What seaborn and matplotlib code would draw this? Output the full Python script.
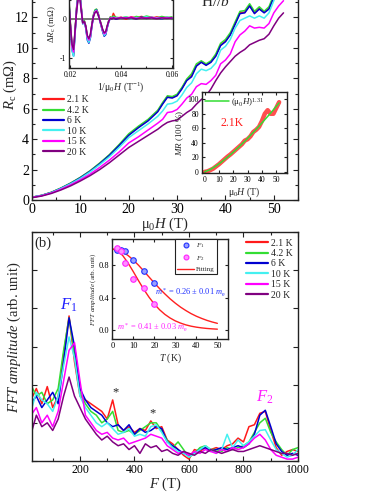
import numpy as np
import pandas as pd
import matplotlib
matplotlib.use("Agg")
import matplotlib.pyplot as plt
import seaborn as sns
from matplotlib.ticker import MultipleLocator

# ---- data -------------------------------------------------------------
TEMPS = ["2.1 K", "4.2 K", "6 K", "10 K", "15 K", "20 K"]
COLORS = ["#ff1a1a", "#33dd33", "#0000d0", "#44f0f0", "#ff00ff", "#800080"]

# (a) R_c vs field
H_GRID = [0, 2, 4, 6, 8, 10, 12, 14, 16, 18, 20, 22, 24, 26, 27, 28, 29, 30, 31, 32,
          33, 34, 35, 36, 37, 38, 39, 40, 41, 42, 43, 44, 45, 46, 47, 48, 49, 50, 51, 52]
R_21K = [0.18, 0.3, 0.5, 0.78, 1.1, 1.47, 1.9, 2.4, 2.95, 3.6, 4.3, 4.8, 5.26, 5.85, 6.35, 6.8, 6.75, 6.9, 7.35, 7.9,
         8.2, 8.85, 9.1, 8.9, 9.1, 9.5, 10.2, 10.45, 10.9, 11.6, 12.3, 12.35, 12.8, 12.3, 12.6, 12.35, 12.6, 13.4, 14.2, 14.6]
R_42K = [0.18, 0.31, 0.51, 0.79, 1.12, 1.49, 1.92, 2.43, 2.98, 3.64, 4.35, 4.85, 5.3, 5.9, 6.4, 6.85, 6.8, 6.95, 7.4, 7.95,
         8.3, 8.95, 9.15, 8.95, 9.15, 9.6, 10.3, 10.55, 11.0, 11.7, 12.4, 12.45, 12.9, 12.4, 12.7, 12.4, 12.7, 13.5, 14.3, 14.7]
R_6K = [0.18, 0.3, 0.49, 0.77, 1.09, 1.46, 1.88, 2.38, 2.93, 3.57, 4.25, 4.75, 5.2, 5.8, 6.3, 6.75, 6.7, 6.85, 7.3, 7.85,
        8.1, 8.8, 9.05, 8.85, 9.05, 9.45, 10.15, 10.4, 10.85, 11.55, 12.25, 12.3, 12.75, 12.25, 12.55, 12.3, 12.55, 13.3, 14.1, 14.5]
R_10K = [0.18, 0.3, 0.48, 0.76, 1.07, 1.42, 1.84, 2.32, 2.84, 3.45, 4.1, 4.55, 5.0, 5.5, 5.85, 6.3, 6.35, 6.5, 6.9, 7.4,
         7.7, 8.3, 8.6, 8.5, 8.65, 9.0, 9.85, 10.1, 10.55, 11.3, 11.8, 11.95, 12.1, 11.95, 12.1, 11.95, 12.3, 13.1, 13.8, 14.2]
R_15K = [0.17, 0.28, 0.46, 0.71, 1.0, 1.33, 1.7, 2.14, 2.62, 3.15, 3.75, 4.15, 4.6, 5.05, 5.3, 5.75, 5.8, 5.95, 6.3, 6.7,
         6.95, 7.45, 7.65, 7.6, 7.85, 8.2, 8.95, 9.2, 9.6, 10.4, 10.85, 11.1, 11.45, 11.3, 11.35, 11.3, 11.6, 12.3, 12.75, 13.1]
R_20K = [0.15, 0.26, 0.43, 0.66, 0.93, 1.25, 1.6, 2.0, 2.45, 2.95, 3.45, 3.85, 4.25, 4.65, 4.9, 5.1, 5.2, 5.25, 5.5, 5.75,
         5.95, 6.3, 6.6, 6.85, 7.3, 7.85, 8.35, 8.75, 9.1, 9.45, 9.7, 9.9, 10.2, 10.35, 10.5, 10.6, 10.9, 11.45, 11.95, 12.3]

# inset: oscillating part vs 1/H
INV_H = [0.0196, 0.0202, 0.0208, 0.0214, 0.0220, 0.0226, 0.0232, 0.0238, 0.0244, 0.0250,
         0.0256, 0.0262, 0.0268, 0.0274, 0.0280, 0.0286, 0.0292, 0.0298, 0.0304, 0.0310,
         0.0316, 0.0322, 0.0328, 0.0334, 0.0340, 0.0346, 0.0352, 0.0358, 0.0364, 0.0370,
         0.038, 0.040, 0.042, 0.044, 0.046, 0.048, 0.050, 0.052, 0.054, 0.056, 0.058, 0.060]
DR_21K = [0.45, -0.2, -0.75, -0.9, -0.3, 0.3, 0.65, 0.7, 0.3, -0.1, -0.05, -0.2, -0.5, -0.58, -0.45, -0.15, 0.1, 0.22, 0.25, 0.15,
          0.0, -0.15, -0.3, -0.42, -0.38, -0.2, -0.05, 0.05, 0.02, 0.15, 0.02, 0.05, 0.0, 0.06, 0.03, 0.07, 0.04, 0.02, 0.06, 0.03, 0.05, 0.02]
DR_42K = [0.5, -0.15, -0.7, -0.88, -0.28, 0.32, 0.68, 0.72, 0.32, -0.08, -0.03, -0.18, -0.48, -0.55, -0.42, -0.12, 0.12, 0.24, 0.26, 0.16,
          0.02, -0.12, -0.28, -0.4, -0.36, -0.18, -0.03, 0.06, 0.04, 0.08, 0.05, 0.03, 0.06, 0.02, 0.07, 0.04, 0.08, 0.05, 0.03, 0.07, 0.04, 0.06]
DR_6K = [0.42, -0.25, -0.8, -0.95, -0.35, 0.28, 0.62, 0.68, 0.28, -0.12, -0.08, -0.24, -0.54, -0.62, -0.48, -0.18, 0.08, 0.2, 0.24, 0.14,
         -0.02, -0.17, -0.32, -0.44, -0.4, -0.22, -0.07, 0.03, 0.01, 0.04, 0.0, 0.04, 0.02, 0.04, 0.01, 0.05, 0.02, 0.04, 0.03, 0.01, 0.04, 0.02]
DR_10K = [0.4, -0.28, -0.82, -0.96, -0.36, 0.26, 0.6, 0.66, 0.27, -0.12, -0.08, -0.22, -0.52, -0.6, -0.46, -0.17, 0.08, 0.2, 0.23, 0.13,
          -0.02, -0.16, -0.3, -0.42, -0.38, -0.21, -0.06, 0.03, 0.02, 0.05, 0.03, 0.02, 0.05, 0.01, 0.04, 0.03, 0.06, 0.02, 0.04, 0.02, 0.05, 0.03]
DR_15K = [0.38, -0.22, -0.72, -0.85, -0.3, 0.25, 0.58, 0.62, 0.26, -0.1, -0.06, -0.2, -0.46, -0.54, -0.42, -0.15, 0.08, 0.19, 0.22, 0.13,
          -0.01, -0.14, -0.28, -0.38, -0.35, -0.19, -0.05, 0.03, 0.02, 0.04, 0.02, 0.04, 0.03, 0.05, 0.02, 0.04, 0.03, 0.05, 0.02, 0.04, 0.03, 0.04]
DR_20K = [0.35, -0.2, -0.65, -0.78, -0.27, 0.22, 0.52, 0.56, 0.22, -0.1, -0.06, -0.18, -0.42, -0.5, -0.38, -0.13, 0.07, 0.17, 0.2, 0.12,
          -0.01, -0.13, -0.26, -0.35, -0.32, -0.17, -0.05, 0.02, 0.01, 0.03, 0.01, 0.03, 0.02, 0.03, 0.01, 0.03, 0.02, 0.03, 0.01, 0.03, 0.02, 0.03]

# inset: MR at 2.1 K and power-law fit
MR_H = [0, 2, 4, 6, 8, 10, 12, 14, 16, 18, 20, 22, 24, 26, 28, 30, 32, 34, 36, 38, 40, 42, 44, 46, 48, 50, 52]
MR_21K = [0, 0.8, 2.5, 4.5, 7.5, 10.5, 14, 17.5, 21, 24, 27.5, 31, 34.5, 38, 43, 45, 49, 55, 58, 62, 70, 80, 85, 80, 80, 88, 96]
FIT_H = [0, 4, 8, 12, 16, 20, 24, 28, 32, 36, 40, 44, 48, 52]
FIT_MR = [0, 3.3, 8.2, 13.9, 20.3, 27.2, 34.5, 42.2, 50.3, 58.7, 67.4, 76.3, 85.5, 95.0]

# (b) FFT spectra
FFT_F = np.arange(20, 1001, 20)
A_21K = [1.6, 1.9, 1.5, 1.95, 1.4, 1.7, 2.8, 3.8, 2.6, 1.7, 1.6, 1.5, 1.4, 1.3, 1.1, 1.6, 0.95, 0.8, 0.9, 0.75,
         0.85, 0.8, 1.05, 0.85, 0.9, 0.55, 0.45, 0.3, 0.15, 0.05, 0.3, 0.25, 0.35, 0.3, 0.35, 0.3, 0.4, 0.45, 0.6, 0.5,
         0.9, 0.95, 1.25, 1.3, 0.8, 0.35, 0.15, 0.25, 0.3, 0.25]
A_42K = [2.0, 1.7, 1.8, 1.5, 1.6, 1.9, 2.9, 3.75, 2.8, 1.8, 1.5, 1.3, 1.2, 1.0, 1.1, 1.3, 0.8, 0.75, 0.8, 0.7,
         0.8, 0.9, 1.0, 1.0, 0.8, 0.55, 0.35, 0.5, 0.3, 0.1, 0.2, 0.35, 0.4, 0.3, 0.3, 0.25, 0.35, 0.3, 0.35, 0.4,
         0.5, 0.75, 1.0, 1.12, 0.75, 0.5, 0.3, 0.15, 0.3, 0.35]
A_6K = [1.5, 1.7, 1.4, 1.6, 1.8, 1.5, 2.6, 3.75, 3.0, 1.9, 1.6, 1.4, 1.3, 1.2, 1.0, 0.9, 0.95, 0.8, 0.95, 0.7,
        0.85, 0.75, 0.8, 0.9, 0.85, 0.5, 0.4, 0.3, 0.2, 0.15, 0.2, 0.3, 0.35, 0.25, 0.3, 0.35, 0.3, 0.35, 0.4, 0.35,
        0.45, 0.7, 1.2, 1.33, 0.9, 0.45, 0.25, 0.15, 0.2, 0.15]
A_10K = [1.3, 1.8, 1.6, 1.5, 1.3, 1.7, 2.5, 3.25, 2.7, 1.7, 1.4, 1.2, 1.0, 0.9, 1.0, 0.85, 0.7, 0.75, 0.85, 0.65,
         0.7, 0.65, 0.9, 0.95, 0.75, 0.5, 0.35, 0.25, 0.2, 0.1, 0.2, 0.3, 0.4, 0.3, 0.2, 0.3, 0.7, 0.35, 0.55, 0.4,
         0.5, 0.65, 0.8, 0.82, 0.55, 0.3, 0.2, 0.1, 0.15, 0.3]
A_15K = [1.2, 1.4, 1.0, 1.2, 0.9, 1.3, 2.1, 2.9, 3.1, 2.1, 1.2, 1.0, 0.8, 0.7, 0.75, 0.6, 0.55, 0.6, 0.45, 0.5,
         0.55, 0.6, 0.7, 0.65, 0.6, 0.4, 0.3, 0.2, 0.25, 0.15, 0.25, 0.2, 0.3, 0.25, 0.2, 0.3, 0.25, 0.35, 0.3, 0.35,
         0.45, 0.6, 0.7, 0.55, 0.3, 0.15, 0.1, 0.05, 0.05, 0.1]
A_20K = [0.7, 1.2, 0.9, 1.0, 0.8, 1.1, 1.7, 2.2, 1.7, 1.4, 1.1, 0.9, 0.7, 0.55, 0.65, 0.5, 0.4, 0.45, 0.3, 0.4,
         0.2, 0.45, 0.35, 0.4, 0.25, 0.3, 0.2, 0.15, 0.25, 0.2, 0.15, 0.25, 0.2, 0.3, 0.25, 0.2, 0.25, 0.3, 0.25, 0.25,
         0.3, 0.35, 0.4, 0.35, 0.3, 0.25, 0.2, 0.2, 0.15, 0.2]

# inset: amplitude vs temperature
T_PTS = [2.1, 4.2, 6, 10, 15, 20]
F1_AMP = [0.99, 0.99, 0.98, 0.86, 0.73, 0.58]
F2_AMP = [1.01, 0.98, 0.83, 0.63, 0.52, 0.32]
T_FIT = [0, 2.5, 5, 7.5, 10, 12.5, 15, 17.5, 20, 22.5, 25, 27.5, 30, 32.5, 35, 37.5, 40, 42.5, 45, 47.5, 50]
F1_FIT = [1.0, 0.991, 0.963, 0.920, 0.864, 0.799, 0.728, 0.654, 0.581, 0.511, 0.446, 0.385, 0.331, 0.282,
          0.240, 0.202, 0.170, 0.143, 0.119, 0.099, 0.082]
F2_FIT = [1.0, 0.979, 0.918, 0.827, 0.720, 0.608, 0.501, 0.404, 0.320, 0.250, 0.193, 0.148, 0.112, 0.085,
          0.063, 0.047, 0.035, 0.026, 0.019, 0.014, 0.010]

R_SERIES = [R_21K, R_42K, R_6K, R_10K, R_15K, R_20K]
DR_SERIES = [DR_21K, DR_42K, DR_6K, DR_10K, DR_15K, DR_20K]
A_SERIES = [A_21K, A_42K, A_6K, A_10K, A_15K, A_20K]

# ---- style ------------------------------------------------------------
sns.set_theme(style="ticks")
plt.rcParams["font.family"] = ["Liberation Serif", "DejaVu Serif"]
plt.rcParams["mathtext.fontset"] = "custom"
plt.rcParams["mathtext.rm"] = "Liberation Serif"
plt.rcParams["mathtext.it"] = "Liberation Serif:italic"
plt.rcParams["mathtext.bf"] = "Liberation Serif:bold"
plt.rcParams["axes.edgecolor"] = "#222222"
plt.rcParams["axes.linewidth"] = 1.0

W, H = 382, 494
fig = plt.figure(figsize=(W / 100, H / 100), dpi=100)
fig.patch.set_facecolor("white")


def px_axes(left, top, right, bottom):
    return fig.add_axes([left / W, 1 - bottom / H, (right - left) / W, (bottom - top) / H])


def style_ticks(ax, size, major=3.5, minor=2.0):
    ax.tick_params(which="both", direction="in", top=True, right=True, colors="#222222",
                   labelcolor="black", labelsize=size, width=0.8, pad=2)
    ax.tick_params(which="major", length=major)
    ax.tick_params(which="minor", length=minor)


# ---- (a) main -----------------------------------------------------------
ax1 = px_axes(32, -13, 298, 200)
for vals, col, lab in zip(R_SERIES, COLORS, TEMPS):
    sns.lineplot(x=H_GRID, y=vals, ax=ax1, color=col, lw=1.1, label=lab)
ax1.set_xlim(0, 55)
ax1.set_ylim(0, 14)
ax1.xaxis.set_major_locator(MultipleLocator(10))
ax1.xaxis.set_minor_locator(MultipleLocator(5))
ax1.yaxis.set_major_locator(MultipleLocator(2))
ax1.yaxis.set_minor_locator(MultipleLocator(1))
style_ticks(ax1, 10)
ax1.set_xlabel(r"μ$_0$$\mathit{H}$ (T)", fontsize=10.5, labelpad=0)
ax1.set_ylabel(r"$\mathit{R}_\mathrm{c}$ (mΩ)", fontsize=10.5)
ax1.yaxis.set_label_coords(-0.047, 0.54)
ax1.text(34.9, 12.76, r"$\mathrm{H}//\mathit{b}$", fontsize=11, va="baseline")
leg1 = ax1.legend(loc="upper left", bbox_to_anchor=(43.3 / W, 1 - 95.5 / H), bbox_transform=fig.transFigure,
                  frameon=False, fontsize=7, handlelength=2.1, handletextpad=0.3, labelspacing=0.15,
                  borderpad=0, borderaxespad=0)
for ln in leg1.get_lines():
    ln.set_linewidth(1.6)

# inset: delta R vs 1/H
ax2 = px_axes(69, -20, 173, 68)
ax2.axhline(0, color="#777777", lw=1.4, zorder=1)
for vals, col in zip(DR_SERIES, COLORS):
    sns.lineplot(x=INV_H, y=vals, ax=ax2, color=col, lw=1.1, legend=False)
ax2.set_xlim(0.0196, 0.0604)
ax2.set_ylim(-1.26, 1.01)
ax2.set_xticks([0.02, 0.04, 0.06])
ax2.set_xticklabels(["0.02", "0.04", "0.06"])
ax2.xaxis.set_minor_locator(MultipleLocator(0.01))
ax2.set_yticks([-1, 0])
ax2.set_yticklabels(["-1", "0"])
ax2.yaxis.set_minor_locator(MultipleLocator(0.5))
style_ticks(ax2, 5.5, major=2.5, minor=1.5)
ax2.set_xlabel(r"1/μ$_0$$\mathit{H}$ (T$^{-1}$)", fontsize=7, labelpad=1)
ax2.set_ylabel(r"Δ$\mathit{R}_\mathrm{c}$ (mΩ)", fontsize=6.5, labelpad=1)

# inset: MR
ax3 = px_axes(201.7, 92, 287, 173)
sns.lineplot(x=MR_H, y=MR_21K, ax=ax3, color="#ff3030", lw=3.2, alpha=0.85, legend=False)
sns.lineplot(x=FIT_H, y=FIT_MR, ax=ax3, color="#33dd33", lw=1.1, label=r"(μ$_0$$\mathit{H}$)$^{1.31}$")
ax3.set_xlim(-2, 57.5)
ax3.set_ylim(-1.5, 110)
ax3.xaxis.set_major_locator(MultipleLocator(10))
ax3.yaxis.set_major_locator(MultipleLocator(20))
style_ticks(ax3, 5.5, major=2.5, minor=1.5)
ax3.set_xlabel(r"μ$_0$$\mathit{H}$ (T)", fontsize=7, labelpad=1)
ax3.set_ylabel(r"$\mathit{MR}$ (100 %)", fontsize=6.5, labelpad=1)
ax3.legend(loc="upper left", frameon=False, fontsize=6.5, handlelength=2.6, handletextpad=0.3,
           borderpad=0.2, borderaxespad=0.2)
ax3.text(19.5, 67, "2.1K", color="#ff2020", fontsize=8.5, ha="center", va="center")

# ---- (b) main -----------------------------------------------------------
ax4 = px_axes(32, 232, 298, 461)
for vals, col, lab in zip(A_SERIES, COLORS, TEMPS):
    sns.lineplot(x=FFT_F, y=vals, ax=ax4, color=col, lw=1.1, label=lab)
ax4.set_xlim(24, 1000)
ax4.set_ylim(0, 6)
ax4.xaxis.set_major_locator(MultipleLocator(200))
ax4.xaxis.set_minor_locator(MultipleLocator(100))
ax4.set_yticks([0, 1, 2, 3, 4, 5, 6])
ax4.set_yticklabels([])
style_ticks(ax4, 8.5)
ax4.set_xlabel(r"$\mathit{F}$ (T)", fontsize=10.5, labelpad=0)
ax4.set_ylabel(r"$\mathit{FFT\ amplitude}$ (arb. unit)", fontsize=10.5)
ax4.yaxis.set_label_coords(-0.034, 0.54)
ax4.text(157, 3.85, r"$\mathit{F}_1$", color="#2020ff", fontsize=12, ha="center", va="bottom")
ax4.text(878, 1.45, r"$\mathit{F}_2$", color="#ff20ff", fontsize=12, ha="center", va="bottom")
ax4.text(331, 1.8, "*", color="#222222", fontsize=9, ha="center", va="center")
ax4.text(467, 1.25, "*", color="#222222", fontsize=9, ha="center", va="center")
leg4 = ax4.legend(loc="upper left", bbox_to_anchor=(245.7 / W, 1 - 238.5 / H), bbox_transform=fig.transFigure,
                  frameon=False, fontsize=7, handlelength=2.3, handletextpad=0.3, labelspacing=0.15,
                  borderpad=0, borderaxespad=0)
for ln in leg4.get_lines():
    ln.set_linewidth(1.6)
fig.text(34 / W, 1 - 243 / H, "(b)", fontsize=10.5, va="center", ha="left")

# inset: amplitude vs T
ax5 = px_axes(112.3, 239.3, 228.3, 339.3)
sns.lineplot(x=T_FIT, y=F1_FIT, ax=ax5, color="#ff2020", lw=1.0, legend=False)
sns.lineplot(x=T_FIT, y=F2_FIT, ax=ax5, color="#ff2020", lw=1.0, legend=False)
sns.scatterplot(x=T_PTS, y=F1_AMP, ax=ax5, color="#9aa0ff", edgecolor="#2030ff", linewidth=0.8,
                s=16, zorder=5, legend=False)
sns.scatterplot(x=T_PTS, y=F2_AMP, ax=ax5, color="#ff90ff", edgecolor="#ff20ff", linewidth=0.8,
                s=16, zorder=5, legend=False)
ax5.set_xlim(0, 55.2)
ax5.set_ylim(-0.115, 1.12)
ax5.xaxis.set_major_locator(MultipleLocator(10))
ax5.set_yticks([0.0, 0.4, 0.8])
ax5.set_yticklabels(["0.0", "0.4", "0.8"])
style_ticks(ax5, 6, major=2.5, minor=1.5)
ax5.set_xlabel(r"$\mathit{T}$ (K)", fontsize=7, labelpad=1)
ax5.set_ylabel(r"$\mathit{FFT\ amplitude}$ (arb. unit)", fontsize=5, labelpad=1)
ax5.text(20.3, 0.46, r"$\mathit{m}^*$ = 0.26 ± 0.01 $\mathit{m}_\mathrm{e}$", color="#2030ff",
         fontsize=6, va="center")
ax5.text(2.2, 0.02, r"$\mathit{m}^*$ = 0.41 ± 0.03 $\mathit{m}_\mathrm{e}$", color="#ff20ff",
         fontsize=6, va="center")
h1, = ax5.plot([], [], "o", ms=3.5, mfc="#9aa0ff", mec="#2030ff", mew=0.8)
h2, = ax5.plot([], [], "o", ms=3.5, mfc="#ff90ff", mec="#ff20ff", mew=0.8)
h3, = ax5.plot([], [], "-", color="#ff2020", lw=1.0)
leg5 = ax5.legend([h1, h2, h3], [r"$\mathit{F}_1$", r"$\mathit{F}_2$", "Fitting"], loc="upper right",
                  bbox_to_anchor=(217 / W, 1 - 239.3 / H), bbox_transform=fig.transFigure,
                  fontsize=5, handlelength=2.4, handletextpad=0.3, labelspacing=0.5, borderpad=0.3,
                  borderaxespad=0, fancybox=False, framealpha=1)
leg5.get_frame().set_edgecolor("#222222")
leg5.get_frame().set_linewidth(0.8)

fig.savefig("out.png", dpi=100)
